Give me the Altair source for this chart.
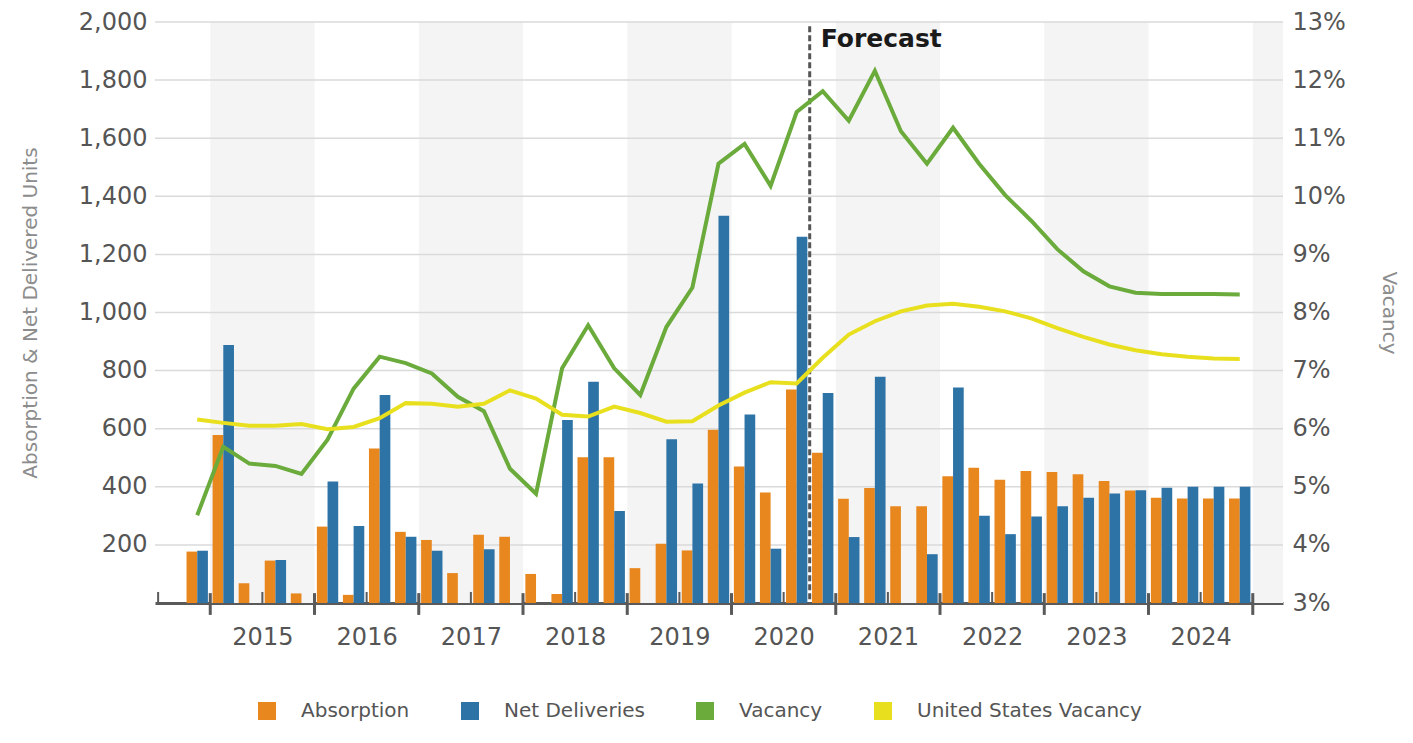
import altair as alt
import pandas as pd

# ---------------- data ----------------
quarters = [
    "2014 Q4",
    "2015 Q1", "2015 Q2", "2015 Q3", "2015 Q4",
    "2016 Q1", "2016 Q2", "2016 Q3", "2016 Q4",
    "2017 Q1", "2017 Q2", "2017 Q3", "2017 Q4",
    "2018 Q1", "2018 Q2", "2018 Q3", "2018 Q4",
    "2019 Q1", "2019 Q2", "2019 Q3", "2019 Q4",
    "2020 Q1", "2020 Q2", "2020 Q3", "2020 Q4",
    "2021 Q1", "2021 Q2", "2021 Q3", "2021 Q4",
    "2022 Q1", "2022 Q2", "2022 Q3", "2022 Q4",
    "2023 Q1", "2023 Q2", "2023 Q3", "2023 Q4",
    "2024 Q1", "2024 Q2", "2024 Q3", "2024 Q4",
]
absorption = [177,
              578, 68, 146, 33,
              263, 28, 532, 245,
              217, 103, 235, 228,
              100, 31, 502, 502,
              120, 204, 181, 596,
              470, 380, 735, 517,
              359, 396, 333, 333,
              436, 466, 424, 454,
              451, 443, 420, 387,
              362, 360, 360, 360]
net_deliveries = [180,
                  888, 0, 148, 0,
                  418, 265, 716, 228,
                  180, 0, 185, 0,
                  0, 630, 762, 317,
                  0, 564, 411, 1333,
                  649, 187, 1261, 723,
                  227, 779, 0, 168,
                  742, 300, 237, 298,
                  333, 362, 377, 388,
                  397, 400, 400, 400]
vacancy = [4.51,
           5.69, 5.40, 5.36, 5.22,
           5.81, 6.69, 7.24, 7.13,
           6.95, 6.55, 6.30, 5.31,
           4.88, 7.04, 7.78, 7.04,
           6.58, 7.75, 8.43, 10.56,
           10.90, 10.18, 11.45, 11.81,
           11.30, 12.16, 11.12, 10.56,
           11.18, 10.56, 10.02, 9.58,
           9.09, 8.71, 8.45, 8.34,
           8.32, 8.32, 8.32, 8.31]
us_vacancy = [6.16,
              6.10, 6.05, 6.05, 6.08,
              5.99, 6.03, 6.18, 6.44,
              6.43, 6.38, 6.43, 6.66,
              6.52, 6.24, 6.21, 6.38,
              6.27, 6.12, 6.13, 6.40,
              6.62, 6.80, 6.78, 7.22,
              7.62, 7.85, 8.02, 8.12,
              8.15, 8.10, 8.02, 7.90,
              7.73, 7.58, 7.45, 7.35,
              7.28, 7.24, 7.21, 7.20]

series_names = ["Absorption", "Net Deliveries", "Vacancy", "United States Vacancy"]
series_colors = ["#E8871E", "#2E73A6", "#6AAB3C", "#E8E01E"]

year_labels = [2015, 2016, 2017, 2018, 2019, 2020, 2021, 2022, 2023, 2024]
year_edges = [2015, 2016, 2017, 2018, 2019, 2020, 2021, 2022, 2023, 2024, 2025]
shaded_years = [2015, 2017, 2019, 2021, 2023, 2025]
left_ticks = [200, 400, 600, 800, 1000, 1200, 1400, 1600, 1800, 2000]
right_ticks = [3, 4, 5, 6, 7, 8, 9, 10, 11, 12, 13]
forecast_start = 2020.75
forecast_label = "Forecast"

# ---------------- tables ----------------
qt = [int(q[:4]) + (int(q[-1]) - 1) / 4 for q in quarters]

bars_df = pd.concat([
    pd.DataFrame({"t": qt, "series": "Absorption", "value": absorption}),
    pd.DataFrame({"t": qt, "series": "Net Deliveries", "value": net_deliveries}),
])
lines_df = pd.concat([
    pd.DataFrame({"t": qt, "series": "Vacancy", "pct": vacancy}),
    pd.DataFrame({"t": qt, "series": "United States Vacancy", "pct": us_vacancy}),
])
band_df = pd.DataFrame({"start": shaded_years, "end": [y + 1 for y in shaded_years]})
grid_df = pd.DataFrame({"g": left_ticks})
major_df = pd.DataFrame({"pos": year_edges, "lo": -41, "hi": 34})
minor_df = pd.DataFrame({"pos": [y - 0.5 for y in year_edges], "lo": 0, "hi": 38})
fc_df = pd.DataFrame({"t": [forecast_start], "label": [forecast_label], "top": [1985], "bottom": [0], "ty": [1913]})

FONT = "DejaVu Sans"
AXIS_GRAY = "#5a5a5a"

x_scale = alt.Scale(domain=[2014.47, 2025.29], nice=False, zero=False)
x_axis = alt.Axis(values=[y + 0.5 for y in year_labels], labelExpr="'' + floor(datum.value)",
                  title=None, ticks=False, grid=False, domainColor=AXIS_GRAY, domainWidth=3,
                  labelFontSize=24, labelColor="#555555", labelFont=FONT, labelPadding=22,
                  labelFlush=False, labelOverlap=False)

yl_scale = alt.Scale(domain=[0, 2000], nice=False, zero=False)
yl_axis = alt.Axis(values=left_ticks, format=",d", title="Absorption & Net Delivered Units",
                   grid=False, domain=False, ticks=False, labelFontSize=24, labelColor="#555555",
                   labelFont=FONT, labelPadding=8, titleFont=FONT, titleFontSize=20,
                   titleColor="#8c8c8c", titleFontWeight="normal", titleX=-125, titleY=290.5,
                   titleAngle=270, titleBaseline="middle", titleAlign="center")

yr_scale = alt.Scale(domain=[3, 13], nice=False, zero=False)
yr_axis = alt.Axis(orient="right", values=right_ticks, labelExpr="datum.value + '%'", title="Vacancy",
                   grid=False, domain=False, ticks=False, labelFontSize=24, labelColor="#555555",
                   labelFont=FONT, labelPadding=9, titleFont=FONT, titleFontSize=20,
                   titleColor="#8c8c8c", titleFontWeight="normal", titleX=105, titleY=290.5,
                   titleAngle=90, titleBaseline="middle", titleAlign="center")

color_scale = alt.Scale(domain=series_names, range=series_colors)


def X(field):
    return alt.X(field, type="quantitative", scale=x_scale, axis=x_axis)


def YL(field):
    return alt.Y(field, type="quantitative", scale=yl_scale, axis=yl_axis)


bands = alt.Chart(band_df).mark_rect(color="#F4F4F4", clip=True).encode(
    x=X("start"), x2="end:Q")

grid = alt.Chart(grid_df).mark_rule(color="#DADADA", strokeWidth=1.5).encode(y=YL("g"))

major = alt.Chart(major_df).mark_rule(color=AXIS_GRAY, strokeWidth=3).encode(
    x=X("pos"), y=YL("lo"), y2="hi:Q")
minor = alt.Chart(minor_df).mark_rule(color=AXIS_GRAY, strokeWidth=2).encode(
    x=X("pos"), y=YL("lo"), y2="hi:Q")

bars = alt.Chart(bars_df).transform_calculate(
    x0="datum.series == 'Absorption' ? datum.t + 0.0225 : datum.t + 0.125",
    x1="datum.series == 'Absorption' ? datum.t + 0.125 : datum.t + 0.2275",
).mark_rect().encode(
    x=X("x0"), x2="x1:Q", y=YL("value"), y2=alt.datum(0),
    color=alt.Color("series:N", scale=color_scale,
                    legend=alt.Legend(title=None, orient="none", legendX=102, legendY=679,
                                      direction="horizontal", symbolType="square", symbolSize=324,
                                      symbolStrokeWidth=0, labelFontSize=20, labelFont=FONT,
                                      labelColor="#555555", labelOffset=24, columnPadding=50,
                                      padding=0, labelLimit=400)),
)

fc_rule = alt.Chart(fc_df).mark_rule(color="#555555", strokeWidth=3, strokeDash=[6, 3]).encode(
    x=X("t"), y=YL("top"), y2="bottom:Q")
fc_text = alt.Chart(fc_df).mark_text(align="left", baseline="alphabetic", dx=11, fontSize=25,
                                     fontWeight="bold", font=FONT, color="#1a1a1a").encode(
    x=X("t"), y=YL("ty"), text="label:N")

left = alt.layer(grid, major, minor, bars, fc_rule, fc_text)

lines = alt.Chart(lines_df).transform_calculate(lt="datum.t + 0.125").mark_line(strokeWidth=4).encode(
    x=X("lt"),
    y=alt.Y("pct:Q", scale=yr_scale, axis=yr_axis),
    color=alt.Color("series:N", scale=color_scale, legend=None),
    detail="series:N",
)

chart = alt.layer(bands, left, lines).resolve_scale(y="independent").properties(
    width=1128, height=581,
    autosize=alt.AutoSizeParams(type="none"),
    padding={"left": 147, "top": 14, "right": 120, "bottom": 125},
).configure(font=FONT).configure_view(stroke=None)

chart.save("out.html", embed_options={"renderer": "svg", "actions": False})
